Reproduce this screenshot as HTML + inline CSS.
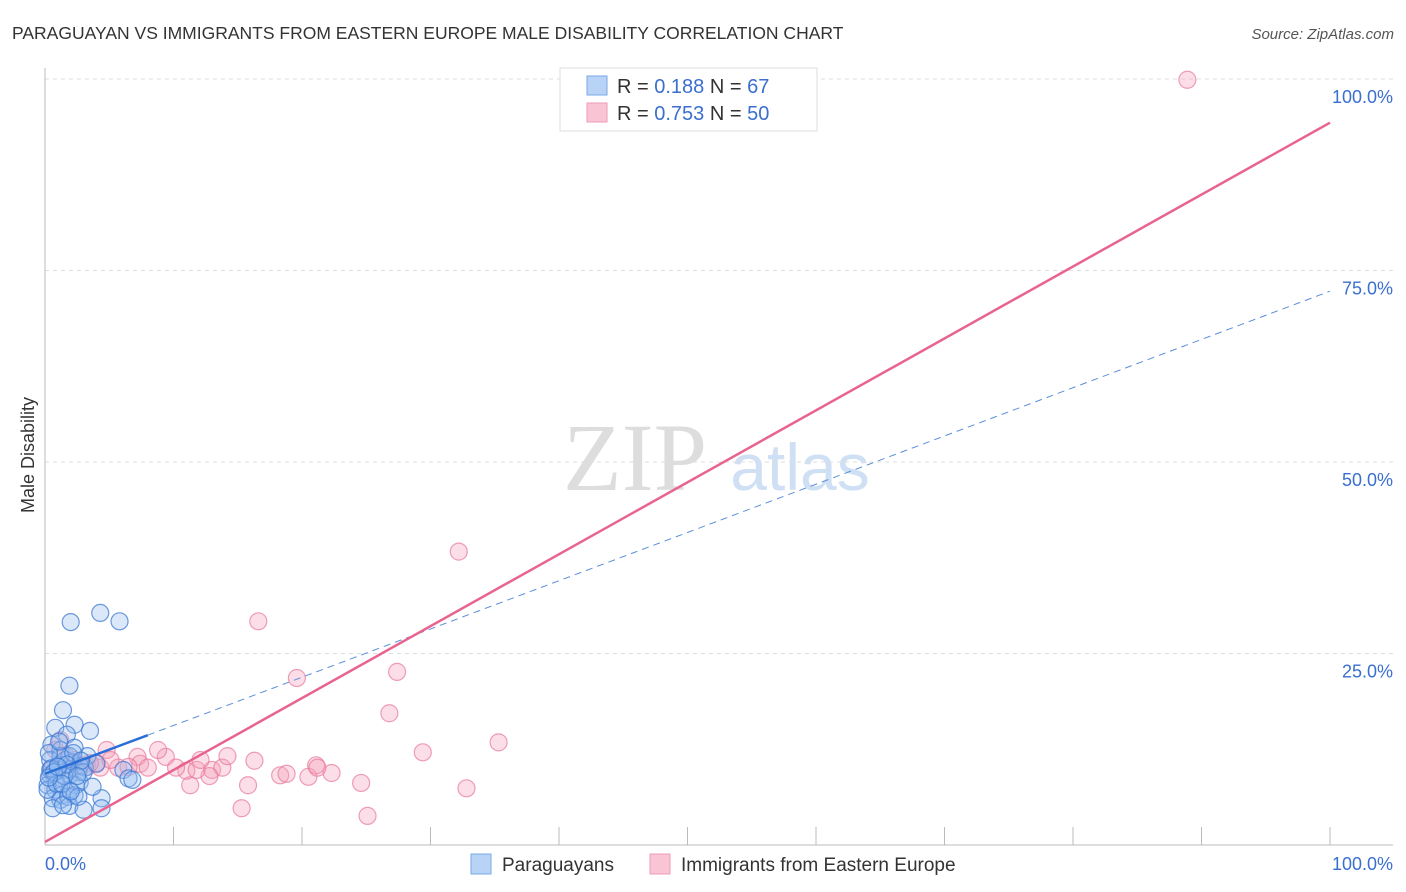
<!DOCTYPE html>
<html><head><meta charset="utf-8"><style>
body{margin:0;background:#fff;font-family:"Liberation Sans",sans-serif}
svg{display:block}
</style></head><body>
<svg id="chart" width="1406" height="892" xmlns="http://www.w3.org/2000/svg">
<text x="12" y="39" font-size="17.5" fill="#333">PARAGUAYAN VS IMMIGRANTS FROM EASTERN EUROPE MALE DISABILITY CORRELATION CHART</text>
<text x="1394" y="39" font-size="15" fill="#555" text-anchor="end" font-style="italic">Source: ZipAtlas.com</text>
<g>
<text x="635" y="490" font-size="96" fill="#ddd" font-family="Liberation Serif,serif" text-anchor="middle">ZIP</text>
<text x="800" y="490" font-size="66" fill="#cfe0f5" text-anchor="middle">atlas</text>
</g>
<g id="grid"></g>
<g id="axes"></g>
<g id="marks"></g>
<g>
<rect x="560" y="68" width="257" height="63" fill="#fff" stroke="#ddd"/>
<rect x="587" y="76" width="20" height="19" fill="#b8d3f5" stroke="#7aaae8"/>
<rect x="587" y="103" width="20" height="19" fill="#f9c5d4" stroke="#ee9ab4"/>
<text x="617" y="93" font-size="20" fill="#333">R = <tspan fill="#3a6fcf">0.188</tspan>   N = <tspan fill="#3a6fcf"> 67</tspan></text>
<text x="617" y="120" font-size="20" fill="#333">R = <tspan fill="#3a6fcf">0.753</tspan>   N = <tspan fill="#3a6fcf">50</tspan></text>
</g>
<g>
<rect x="471" y="854" width="20" height="20" fill="#b8d3f5" stroke="#7aaae8"/>
<text x="502" y="871" font-size="19" fill="#333">Paraguayans</text>
<rect x="650" y="854" width="20" height="20" fill="#f9c5d4" stroke="#ee9ab4"/>
<text x="681" y="871" font-size="19" fill="#333">Immigrants from Eastern Europe</text>
</g>
<text transform="translate(34,455) rotate(-90)" font-size="18" fill="#333" text-anchor="middle">Male Disability</text>
</svg>
<script>
const yTicks=[25,50,75,100];
const yTickLabels=["25.0%","50.0%","75.0%","100.0%"];
const xTicks=[0,10,20,30,40,50,60,70,80,90,100];
const blueX=[2.0,4.3,5.8,1.9,1.4,2.3,3.5,0.8,1.7,0.5,1.2,2.3,3.3,0.4,1.0,1.6,2.1,2.7,0.4,0.8,1.3,1.9,2.6,3.1,0.2,0.8,1.3,1.9,2.4,0.6,1.2,1.8,2.3,2.7,1.0,1.6,1.9,3.0,4.0,6.1,6.5,6.8,4.4,1.9,3.0,4.4,1.2,0.4,0.2,0.6,1.4,2.6,3.7,0.3,1.1,2.2,0.9,1.5,0.5,2.8,1.7,0.7,1.3,2.0,0.3,1.0,2.5];
const blueY=[29.1,30.3,29.2,20.8,17.6,15.7,14.9,15.3,14.4,13.1,12.4,12.7,11.6,11.1,10.4,9.8,10.8,10.3,9.1,8.5,8.7,9.1,9.5,10.1,7.8,7.2,6.5,7.2,7.8,6.1,5.9,6.3,6.5,8.2,9.8,11.1,11.6,9.5,10.6,9.8,8.7,8.5,6.1,5.1,4.6,4.8,11.6,9.8,7.2,4.8,5.2,6.3,7.6,12.0,13.5,12.0,8.0,9.0,10.0,11.0,10.5,9.5,8.0,7.0,8.8,10.2,9.0];
const pinkX=[47.1,88.9,32.2,16.6,19.6,27.4,26.8,35.3,29.4,32.8,25.1,24.6,15.3,15.8,11.3,18.3,20.5,22.3,21.1,13.0,13.8,12.8,11.0,9.4,8.8,7.2,7.4,4.8,5.7,6.5,8.0,4.3,3.3,4.0,10.2,11.8,14.2,16.3,18.8,21.2,1.2,0.8,1.6,2.3,2.7,3.5,0.5,1.9,5.1,12.1];
const pinkY=[99.9,99.9,38.3,29.2,21.8,22.6,17.2,13.4,12.1,7.4,3.8,8.1,4.8,7.8,7.8,9.1,8.9,9.4,10.4,9.8,10.1,9.0,9.7,11.5,12.4,11.5,10.6,12.4,10.1,10.2,10.1,10.1,10.2,10.7,10.1,9.8,11.6,11.0,9.3,10.1,13.7,12.4,11.7,11.1,10.4,10.7,9.8,9.8,11.1,11.1];
const blueTrend=[9.3,0.63];
const pinkTrend=[0.4,0.939];
const NS="http://www.w3.org/2000/svg";
const X=v=>45+v*12.85, Y=v=>845-v*7.66;
function mk(tag,attrs,parent){const e=document.createElementNS(NS,tag);for(const k in attrs)e.setAttribute(k,attrs[k]);document.getElementById(parent).appendChild(e);return e;}
yTicks.forEach((t,i)=>{
 const l=mk('line',{x1:45,x2:1393,y1:Y(t),y2:Y(t),stroke:'#ddd','stroke-dasharray':'4,4'},'grid');
 
 
 const tx=mk('text',{x:1393,y:Y(t)+24,'font-size':18,fill:'#3a6fcf','text-anchor':'end'},'axes');
 tx.textContent=yTickLabels[i];
 
 
});
let a=mk('line',{x1:45,x2:45,y1:68,y2:845,stroke:'#bbb'},'axes');


a=mk('line',{x1:45,x2:1393,y1:845,y2:845,stroke:'#bbb'},'axes');


xTicks.forEach(t=>{const l=mk('line',{x1:X(t),x2:X(t),y1:827,y2:845,stroke:'#bbb'},'axes');
 
 });
let t0=mk('text',{x:45,y:870,'font-size':18,fill:'#3a6fcf'},'axes');t0.textContent='0.0%';


t0=mk('text',{x:1393,y:870,'font-size':18,fill:'#3a6fcf','text-anchor':'end'},'axes');t0.textContent='100.0%';


pinkX.forEach((x,i)=>{const c=mk('circle',{cx:X(x),cy:Y(pinkY[i]),r:8.5,fill:'rgba(244,160,185,0.35)',stroke:'rgba(232,120,155,0.7)','stroke-width':1.2},'marks');
 
 });
blueX.forEach((x,i)=>{const c=mk('circle',{cx:X(x),cy:Y(blueY[i]),r:8.5,fill:'rgba(150,190,240,0.35)',stroke:'rgba(60,120,210,0.75)','stroke-width':1.2},'marks');
 
 });
let tl=mk('line',{x1:X(8),y1:Y(blueTrend[0]+blueTrend[1]*8),x2:X(100),y2:Y(blueTrend[0]+blueTrend[1]*100),stroke:'#5a8fd8','stroke-width':1,'stroke-dasharray':'7,5'},'marks');


tl=mk('line',{x1:X(0),y1:Y(blueTrend[0]),x2:X(8),y2:Y(blueTrend[0]+blueTrend[1]*8),stroke:'#2a6ed8','stroke-width':2.5},'marks');


tl=mk('line',{x1:X(0),y1:Y(pinkTrend[0]),x2:X(100),y2:Y(pinkTrend[0]+pinkTrend[1]*100),stroke:'#e8648f','stroke-width':2.5},'marks');


</script>
</body></html>
